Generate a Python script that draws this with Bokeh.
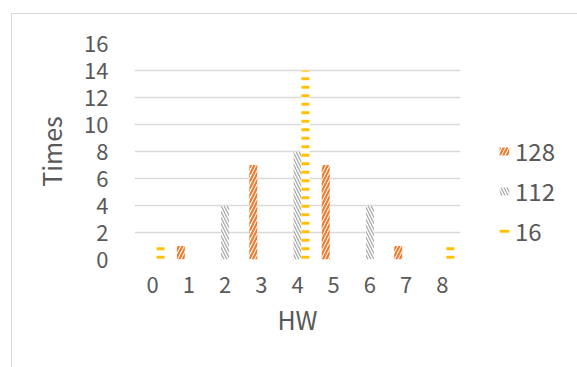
from bokeh.plotting import figure
from bokeh.models import Range1d, FixedTicker, Legend, LegendItem, ColumnDataSource
from bokeh.layouts import row
from bokeh.embed import file_html
from bokeh.resources import INLINE
from bokeh.transform import dodge

categories = [0, 1, 2, 3, 4, 5, 6, 7, 8]
series_names = ["128", "112", "16"]
s128 = [0, 1, 0, 7, 0, 7, 0, 1, 0]
s112 = [0, 0, 4, 0, 8, 0, 4, 0, 0]
s16 = [1, 0, 0, 0, 14, 0, 0, 0, 1]
y_ticks = [0, 2, 4, 6, 8, 10, 12, 14, 16]

src = ColumnDataSource(dict(x=categories, s128=s128, s112=s112, s16=s16))

FONT = "Noto Sans CJK SC"
TXT = "#595959"
BORDER = "1px solid #d9d9d9"

styles = [
    dict(fill_color="white", line_color=None, hatch_pattern="/", hatch_color="#ED7D31",
         hatch_scale=7, hatch_weight=2.2),
    dict(fill_color="white", line_color=None, hatch_pattern="\\", hatch_color="#A5A5A5",
         hatch_scale=6, hatch_weight=1.2),
    dict(fill_color="white", line_color=None, hatch_pattern="-", hatch_color="#FFC000",
         hatch_scale=8.5, hatch_weight=3),
]

p = figure(width=480, height=354, output_backend="svg", toolbar_location=None,
           x_range=Range1d(-0.5, 8.5), y_range=Range1d(0, 16),
           min_border_left=122, min_border_right=32, min_border_top=29, min_border_bottom=109)
p.margin = (13, 0, 0, 11)
p.styles = {"border-left": BORDER, "border-top": BORDER}
p.outline_line_color = None
p.background_fill_color = "white"
p.border_fill_color = "white"

bw = 0.22
p.vbar(x=dodge("x", -bw, range=p.x_range), top="s128", width=bw, source=src, **styles[0])
p.vbar(x=dodge("x", 0, range=p.x_range), top="s112", width=bw, source=src, **styles[1])
p.vbar(x=dodge("x", bw, range=p.x_range), top="s16", width=bw, source=src, **styles[2])

p.xgrid.grid_line_color = None
p.ygrid.grid_line_color = "#d9d9d9"
p.ygrid.grid_line_width = 1.5

p.xaxis.ticker = FixedTicker(ticks=categories)
p.yaxis.ticker = FixedTicker(ticks=y_ticks)
for ax in (p.xaxis[0], p.yaxis[0]):
    ax.axis_line_color = None
    ax.major_tick_line_color = None
    ax.minor_tick_line_color = None
    ax.major_label_text_font = FONT
    ax.major_label_text_font_size = "22px"
    ax.major_label_text_color = TXT
    ax.axis_label_text_font = FONT
    ax.axis_label_text_font_size = "25px"
    ax.axis_label_text_color = TXT
    ax.axis_label_text_font_style = "normal"
p.xaxis.axis_label = "HW"
p.yaxis.axis_label = "Times"
p.yaxis.major_label_standoff = 20
p.xaxis.major_label_standoff = 11
p.yaxis.axis_label_standoff = 12
p.xaxis.axis_label_standoff = 5

# legend panel
q = figure(width=86, height=354, output_backend="svg", toolbar_location=None,
           x_range=Range1d(0, 1), y_range=Range1d(0, 1),
           x_axis_type=None, y_axis_type=None,
           min_border_left=0, min_border_right=0, min_border_top=0, min_border_bottom=0)
q.margin = (13, 0, 0, 0)
q.styles = {"border-top": BORDER}
q.outline_line_color = None
q.xgrid.grid_line_color = None
q.ygrid.grid_line_color = None
q.background_fill_color = "white"
q.border_fill_color = "white"
dummy = [q.vbar(x=[-10], top=[0], width=0.01, **st) for st in styles]

legend = Legend(items=[LegendItem(label=name, renderers=[r]) for name, r in zip(series_names, dummy)],
                location=(7, 11), orientation="vertical")
legend.glyph_width = 12
legend.glyph_height = 10
legend.label_height = 20
legend.spacing = 5
legend.padding = 0
legend.margin = 0
legend.label_standoff = 5
legend.border_line_color = None
legend.background_fill_alpha = 0
legend.label_text_font = FONT
legend.label_text_font_size = "24px"
legend.label_text_color = TXT
q.add_layout(legend, "center")

layout = row(p, q)
open("out.html", "w").write(file_html(layout, INLINE))
